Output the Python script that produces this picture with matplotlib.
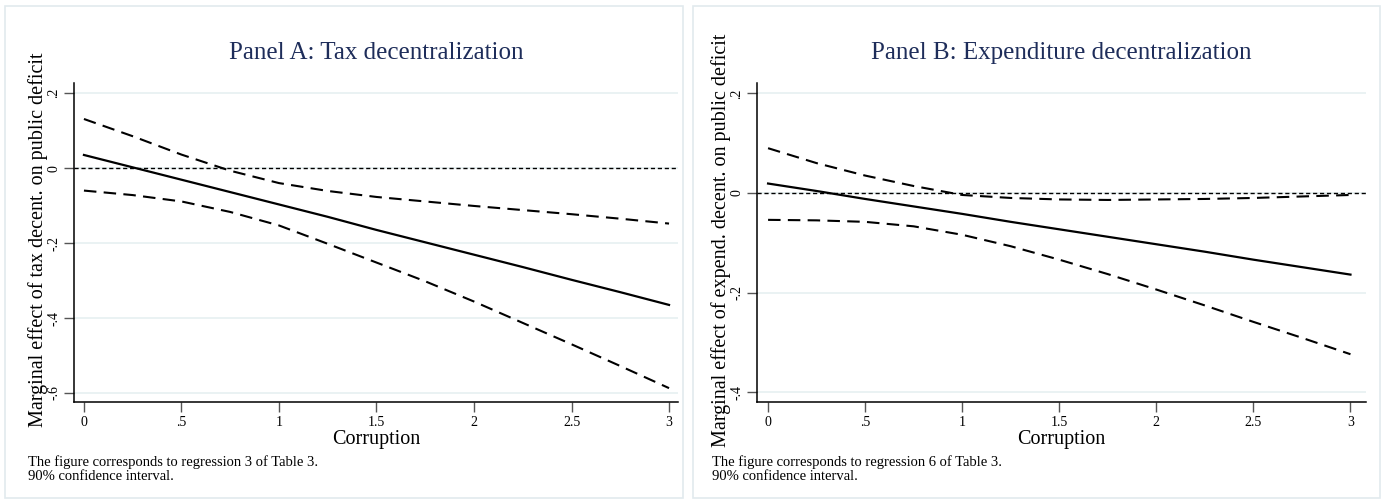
import matplotlib
matplotlib.use("Agg")
import matplotlib.pyplot as plt
from matplotlib.patches import Rectangle

plt.rcParams['font.family'] = ['Liberation Serif', 'DejaVu Serif']

# corruption grid
corr = [0, 0.25, 0.5, 0.75, 1, 1.25, 1.5, 1.75, 2, 2.25, 2.5, 2.75, 3]

# Panel A: tax decentralization
a_mid = [0.035, 0.002, -0.031, -0.064, -0.097, -0.130, -0.165, -0.198, -0.231, -0.264, -0.298, -0.331, -0.365]
a_up = [0.131, 0.085, 0.036, -0.007, -0.040, -0.061, -0.077, -0.089, -0.101, -0.112, -0.123, -0.135, -0.148]
a_lo = [-0.060, -0.072, -0.089, -0.117, -0.153, -0.202, -0.252, -0.302, -0.356, -0.413, -0.470, -0.528, -0.587]

# Panel B: expenditure decentralization
b_mid = [0.019, 0.004, -0.012, -0.027, -0.042, -0.058, -0.073, -0.088, -0.103, -0.118, -0.134, -0.149, -0.164]
b_up = [0.090, 0.060, 0.035, 0.014, -0.004, -0.010, -0.013, -0.014, -0.013, -0.012, -0.010, -0.007, -0.004]
b_lo = [-0.054, -0.055, -0.058, -0.067, -0.084, -0.107, -0.134, -0.163, -0.194, -0.226, -0.259, -0.291, -0.324]

xticks = [0, 0.5, 1, 1.5, 2, 2.5, 3]
xticklabels = ['0', '.5', '1', '1.5', '2', '2.5', '3']
a_yticks = [0.2, 0, -0.2, -0.4, -0.6]
a_yticklabels = ['.2', '0', '-.2', '-.4', '-.6']
b_yticks = [0.2, 0, -0.2, -0.4]
b_yticklabels = ['.2', '0', '-.2', '-.4']

panels = [
    dict(title='Panel A: Tax decentralization',
         ylabel='Marginal effect of tax decent. on public deficit',
         note='The figure corresponds to regression 3 of Table 3.\n90% confidence interval.',
         mid=a_mid, up=a_up, lo=a_lo, yt=a_yticks, ytl=a_yticklabels,
         pos=[74/1385, 1-402/503, 604/1385, 319/503],
         xlim=(-0.051, 3.046), ylim=(-0.624, 0.227),
         box=(5, 683), ylab_x=38/1385, note_x=28/1385),
    dict(title='Panel B: Expenditure decentralization',
         ylabel='Marginal effect of expend. decent. on public deficit',
         note='The figure corresponds to regression 6 of Table 3.\n90% confidence interval.',
         mid=b_mid, up=b_up, lo=b_lo, yt=b_yticks, ytl=b_yticklabels,
         pos=[757/1385, 1-402/503, 609/1385, 319/503],
         xlim=(-0.057, 3.08), ylim=(-0.42, 0.221),
         box=(693, 1380), ylab_x=721/1385, note_x=712/1385),
]

fig = plt.figure(figsize=(13.85, 5.03), dpi=100)

for p in panels:
    x0, x1 = p['box']
    fig.patches.append(Rectangle((x0/1385, 5/503), (x1-x0)/1385, 492/503,
                                 transform=fig.transFigure, fill=False,
                                 edgecolor='#e2eaee', linewidth=1.2))
    ax = fig.add_axes(p['pos'])
    for y in p['yt']:
        ax.axhline(y, color='#eaf2f3', linewidth=1.4, zorder=0)
    ax.axhline(0, color='black', linewidth=1.0, linestyle=(0, (3, 2)), zorder=1)
    ax.plot(corr, p['up'], color='black', linewidth=1.5, linestyle=(0, (6, 3.5)))
    ax.plot(corr, p['lo'], color='black', linewidth=1.5, linestyle=(0, (6, 3.5)))
    ax.plot(corr, p['mid'], color='black', linewidth=1.6)
    ax.set_xlim(p['xlim'])
    ax.set_ylim(p['ylim'])
    ax.set_xticks(xticks)
    ax.set_xticklabels(xticklabels, fontsize=10)
    ax.set_yticks(p['yt'])
    ax.set_yticklabels(p['ytl'], fontsize=10, rotation=90, va='center')
    ax.tick_params(axis='both', length=7, width=1, color='#555555', pad=3)
    for s in ['top', 'right']:
        ax.spines[s].set_visible(False)
    for s in ['left', 'bottom']:
        ax.spines[s].set_linewidth(1.1)
    ax.set_xlabel('Corruption', fontsize=14.5, labelpad=1)
    ax.set_title(p['title'], fontsize=18, color='#1e2d5a', pad=17)
    fig.text(p['ylab_x'], 1 - 240/503, p['ylabel'], rotation=90, fontsize=14.5,
             ha='center', va='center')
    fig.text(p['note_x'], 1 - 455/503, p['note'], fontsize=10.5, va='top',
             ha='left', linespacing=1.1)

fig.savefig('out.png', dpi=100, facecolor='white')
